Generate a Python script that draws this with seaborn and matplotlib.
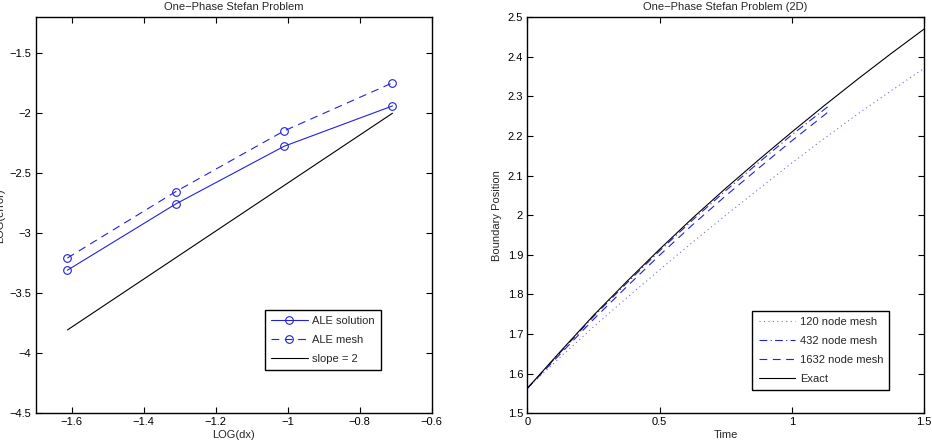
import matplotlib
matplotlib.use("Agg")
import numpy as np
import pandas as pd
import matplotlib.pyplot as plt
from matplotlib.ticker import FuncFormatter
import seaborn as sns

# ── Data ──────────────────────────────────────────────────────
log_dx = [-1.612, -1.311, -1.010, -0.709]
ale_solution = [-3.308, -2.756, -2.275, -1.939]
ale_mesh = [-3.206, -2.653, -2.147, -1.747]
slope_x = [-1.612, -0.709]
slope_y = [-3.806, -2.000]

t_full = [0.0, 0.125, 0.25, 0.375, 0.5, 0.625, 0.75, 0.875,
          1.0, 1.125, 1.25, 1.375, 1.5]
t_short = [0.0, 0.125, 0.25, 0.375, 0.5, 0.625, 0.75, 0.875, 1.0, 1.14]
mesh_120 = [1.563, 1.642, 1.718, 1.791, 1.862, 1.932, 2.000, 2.066,
            2.132, 2.195, 2.256, 2.314, 2.371]
mesh_432 = [1.563, 1.654, 1.744, 1.828, 1.910, 1.988, 2.062, 2.133,
            2.203, 2.276]
mesh_1632 = [1.563, 1.650, 1.737, 1.819, 1.899, 1.976, 2.049, 2.119,
             2.188, 2.262]
exact = [1.563, 1.656, 1.747, 1.832, 1.914, 1.993, 2.068, 2.140,
         2.210, 2.278, 2.344, 2.408, 2.470]

BLUE = "#2222dd"

sns.set_style("ticks")
plt.rcParams["font.family"] = ["Liberation Sans", "DejaVu Sans"]
plt.rcParams["axes.edgecolor"] = "black"
plt.rcParams["axes.linewidth"] = 1.0


def fmt(v, _pos):
    return f"{v:g}".replace("-", "\u2212")


def style_axes(ax):
    ax.tick_params(direction="in", top=True, right=True, length=4,
                   width=0.8, labelsize=8, colors="black", pad=3)
    ax.xaxis.set_major_formatter(FuncFormatter(fmt))
    ax.yaxis.set_major_formatter(FuncFormatter(fmt))
    for s in ax.spines.values():
        s.set_visible(True)
        s.set_color("black")


def boxed_legend(ax, loc, anchor):
    leg = ax.legend(loc=loc, bbox_to_anchor=anchor, borderaxespad=0,
                    fontsize=8, frameon=True, fancybox=False, framealpha=1,
                    edgecolor="black", handlelength=3.3, borderpad=0.55,
                    labelspacing=0.8, handletextpad=0.4)
    leg.get_frame().set_linewidth(1.0)
    return leg


fig = plt.figure(figsize=(9.32, 4.48), dpi=100)
ax1 = fig.add_axes([0.0383, 0.0775, 0.4249, 0.884])
ax2 = fig.add_axes([0.5658, 0.0775, 0.4256, 0.884])

# ── Left: convergence ─────────────────────────────────────────
sns.lineplot(x=log_dx, y=ale_solution, ax=ax1, color=BLUE, lw=0.8,
             marker="o", mfc="none", mec=BLUE, ms=5.5, mew=0.8,
             label="ALE solution")
sns.lineplot(x=log_dx, y=ale_mesh, ax=ax1, color=BLUE, lw=0.8,
             linestyle=(0, (7, 5)), marker="o", mfc="none", mec=BLUE,
             ms=5.5, mew=0.8, label="ALE mesh")
sns.lineplot(x=slope_x, y=slope_y, ax=ax1, color="black", lw=0.8,
             label="slope = 2")
ax1.set_xlim(-1.7, -0.6)
ax1.set_ylim(-4.5, -1.2)
ax1.set_xticks(np.arange(-1.6, -0.59, 0.2))
ax1.set_yticks(np.arange(-4.5, -1.49, 0.5))
ax1.set_title("One\u2212Phase Stefan Problem", fontsize=8, pad=5)
ax1.set_xlabel("LOG(dx)", fontsize=8, labelpad=2)
ax1.set_ylabel("LOG(error)", fontsize=8)
ax1.yaxis.set_label_coords(-0.078, 0.5)
style_axes(ax1)
boxed_legend(ax1, "lower left", (0.579, 0.109))

# ── Right: boundary position ──────────────────────────────────
sns.lineplot(x=t_full, y=mesh_120, ax=ax2, color="#6f6fe6", lw=0.8,
             linestyle=(0, (1, 3)), label="120 node mesh")
sns.lineplot(x=t_short, y=mesh_432, ax=ax2, color=BLUE, lw=0.8,
             linestyle=(0, (7, 3, 1, 3)), label="432 node mesh")
sns.lineplot(x=t_short, y=mesh_1632, ax=ax2, color=BLUE, lw=0.8,
             linestyle=(0, (7, 5)), label="1632 node mesh")
sns.lineplot(x=t_full, y=exact, ax=ax2, color="black", lw=0.8,
             label="Exact")
ax2.set_xlim(0, 1.5)
ax2.set_ylim(1.5, 2.5)
ax2.set_xticks([0, 0.5, 1, 1.5])
ax2.set_yticks(np.arange(1.5, 2.51, 0.1))
ax2.set_title("One\u2212Phase Stefan Problem (2D)", fontsize=8, pad=5)
ax2.set_xlabel("Time", fontsize=8, labelpad=2)
ax2.set_ylabel("Boundary Position", fontsize=8)
ax2.yaxis.set_label_coords(-0.063, 0.5)
style_axes(ax2)
boxed_legend(ax2, "lower right", (0.9125, 0.059))

fig.savefig("out.png", dpi=100)
plt.close(fig)
